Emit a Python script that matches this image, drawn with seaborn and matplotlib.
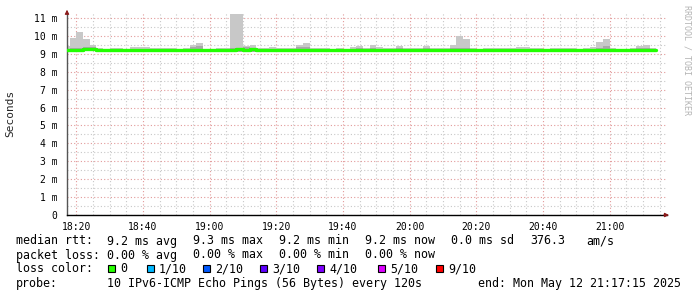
import numpy as np
import pandas as pd
import matplotlib
matplotlib.use("Agg")
import matplotlib.pyplot as plt
import matplotlib.dates as mdates
from matplotlib.patches import Rectangle
import seaborn as sns

# ---------------- data ----------------
start_time = "2025-05-12 18:16:00"      # first 2-minute step
view_start = "2025-05-12 18:17:15"
view_end = "2025-05-12 21:17:15"

rtt_max = [9.42, 9.90, 10.20, 9.85, 9.50, 9.30, 9.28, 9.33, 9.33, 9.28,
           9.38, 9.36, 9.38, 9.30, 9.32, 9.30, 9.30, 9.26, 9.30, 9.48,
           9.60, 9.25, 9.28, 9.30, 9.34, 11.20, 11.20, 9.46, 9.48, 9.35,
           9.33, 9.38, 9.35, 9.30, 9.30, 9.48, 9.60, 9.32, 9.30, 9.30,
           9.28, 9.30, 9.28, 9.36, 9.42, 9.33, 9.48, 9.38, 9.30, 9.32,
           9.42, 9.30, 9.30, 9.33, 9.42, 9.30, 9.30, 9.33, 9.48, 9.98,
           9.83, 9.30, 9.26, 9.30, 9.30, 9.33, 9.33, 9.32, 9.37, 9.37,
           9.30, 9.30, 9.28, 9.32, 9.30, 9.30, 9.30, 9.28, 9.30, 9.36,
           9.65, 9.83, 9.33, 9.28, 9.28, 9.30, 9.42, 9.48, 9.30]

rtt_inner_hi = [9.28, 9.30, 9.30, 9.38, 9.37, 9.27, 9.26, 9.27, 9.27, 9.26,
                9.28, 9.28, 9.28, 9.27, 9.27, 9.27, 9.27, 9.25, 9.27, 9.38,
                9.42, 9.24, 9.26, 9.27, 9.28, 9.30, 9.33, 9.36, 9.33, 9.28,
                9.27, 9.28, 9.28, 9.27, 9.27, 9.38, 9.40, 9.27, 9.27, 9.27,
                9.26, 9.27, 9.26, 9.28, 9.30, 9.27, 9.32, 9.28, 9.27, 9.27,
                9.30, 9.27, 9.27, 9.28, 9.30, 9.27, 9.27, 9.27, 9.30, 9.30,
                9.30, 9.27, 9.25, 9.27, 9.27, 9.28, 9.28, 9.27, 9.29, 9.29,
                9.27, 9.27, 9.26, 9.27, 9.27, 9.27, 9.27, 9.26, 9.27, 9.29,
                9.35, 9.45, 9.28, 9.26, 9.26, 9.27, 9.32, 9.35, 9.27]

rtt_min = [9.17, 9.17, 9.17, 9.16, 9.16, 9.12, 9.14, 9.15, 9.15, 9.15,
           9.15, 9.12, 9.12, 9.15, 9.15, 9.16, 9.16, 9.15, 9.15, 9.12,
           9.16, 9.15, 9.15, 9.16, 9.15, 9.15, 9.13, 9.13, 9.12, 9.12,
           9.15, 9.15, 9.15, 9.15, 9.15, 9.15, 9.15, 9.15, 9.14, 9.14,
           9.12, 9.15, 9.15, 9.15, 9.15, 9.14, 9.15, 9.15, 9.15, 9.15,
           9.15, 9.12, 9.12, 9.15, 9.15, 9.15, 9.15, 9.15, 9.15, 9.15,
           9.15, 9.15, 9.12, 9.12, 9.15, 9.15, 9.15, 9.15, 9.15, 9.15,
           9.12, 9.15, 9.15, 9.15, 9.15, 9.15, 9.15, 9.15, 9.15, 9.12,
           9.12, 9.15, 9.15, 9.15, 9.15, 9.15, 9.15, 9.15, 9.12]

rtt_median = [9.23, 9.23, 9.23, 9.25, 9.25, 9.20, 9.19, 9.21, 9.21, 9.21,
              9.21, 9.21, 9.20, 9.21, 9.21, 9.21, 9.21, 9.21, 9.21, 9.21,
              9.22, 9.20, 9.21, 9.21, 9.22, 9.23, 9.26, 9.24, 9.27, 9.21,
              9.21, 9.21, 9.21, 9.21, 9.21, 9.22, 9.22, 9.21, 9.21, 9.21,
              9.20, 9.21, 9.21, 9.21, 9.21, 9.21, 9.21, 9.21, 9.21, 9.21,
              9.21, 9.21, 9.22, 9.22, 9.21, 9.21, 9.21, 9.21, 9.21, 9.21,
              9.21, 9.21, 9.21, 9.21, 9.22, 9.22, 9.22, 9.21, 9.21, 9.21,
              9.21, 9.21, 9.21, 9.21, 9.21, 9.21, 9.21, 9.21, 9.21, 9.21,
              9.21, 9.22, 9.21, 9.21, 9.21, 9.21, 9.21, 9.21, 9.21]

y_ticks = [0, 1, 2, 3, 4, 5, 6, 7, 8, 9, 10, 11]
y_tick_labels = ["0", "1 m", "2 m", "3 m", "4 m", "5 m", "6 m", "7 m",
                 "8 m", "9 m", "10 m", "11 m"]

legend_lines = [
    [(16, "median rtt:"), (107, "9.2 ms avg"), (193, "9.3 ms max"),
     (279, "9.2 ms min"), (365, "9.2 ms now"), (451, "0.0 ms sd"),
     (530, "376.3"), (586, "am/s")],
    [(16, "packet loss:"), (107, "0.00 % avg"), (193, "0.00 % max"),
     (279, "0.00 % min"), (365, "0.00 % now")],
    [(16, "loss color:")],
    [(16, "probe:"), (107, "10 IPv6-ICMP Echo Pings (56 Bytes) every 120s"),
     (478, "end: Mon May 12 21:17:15 2025")],
]
loss_labels = ["0", "1/10", "2/10", "3/10", "4/10", "5/10", "9/10"]
loss_colors = ["#26ff00", "#00b8ff", "#0059ff", "#5e00ff", "#7e00ff",
               "#dd00ff", "#ff0000"]
loss_box_x = [108, 147, 203, 260, 317, 378, 436]

# ---------------- figure ----------------
sns.set_style("white")
plt.rcParams["font.family"] = ["DejaVu Sans Mono", "DejaVu Sans"]

W, H = 697, 297
fig = plt.figure(figsize=(W / 100, H / 100), dpi=100)
fig.patch.set_facecolor("white")
ax_left, ax_right, ax_bottom, ax_top = 67, 667, 215, 13
ax = fig.add_axes([ax_left / W, 1 - ax_bottom / H,
                   (ax_right - ax_left) / W, (ax_bottom - ax_top) / H])
ax.set_facecolor("white")

n = len(rtt_max)
edges = pd.date_range(start_time, periods=n + 1, freq="2min")

def stepped(vals):
    return list(vals) + [vals[-1]]

df = pd.DataFrame({
    "time": edges,
    "max": stepped(rtt_max),
    "hi": stepped(rtt_inner_hi),
    "min": stepped(rtt_min),
    "median": stepped(rtt_median),
})

# grid
ax.xaxis.set_major_locator(mdates.MinuteLocator(byminute=[0, 20, 40]))
ax.xaxis.set_minor_locator(mdates.MinuteLocator(byminute=range(0, 60, 5)))
ax.xaxis.set_major_formatter(mdates.DateFormatter("%H:%M"))
ax.set_yticks(y_ticks)
ax.set_yticklabels(y_tick_labels)
ax.set_yticks(np.arange(0.5, 11.5, 1.0), minor=True)
ax.grid(which="minor", color="#c8c8c8", linestyle=(0, (1, 2)), linewidth=0.8)
ax.grid(which="major", color="#e29a9a", linestyle=(0, (1, 2)), linewidth=0.8)
ax.set_axisbelow(True)

# smoke
ax.fill_between(df["time"], df["hi"], df["max"], step="post",
                color="#c8c8c8", linewidth=0, zorder=2)
ax.fill_between(df["time"], df["min"], df["hi"], step="post",
                color="#a8a8a8", linewidth=0, zorder=2)
# median line
sns.lineplot(data=df, x="time", y="median", ax=ax, color="#22ff00",
             linewidth=2.4, drawstyle="steps-post", zorder=3)

ax.set_xlim(pd.Timestamp(view_start), pd.Timestamp(view_end))
ax.set_ylim(0, 11.28)
ax.set_xlabel("")
ax.set_ylabel("")

for s in ["top", "right"]:
    ax.spines[s].set_visible(False)
ax.spines["left"].set_color("#555555")
ax.spines["left"].set_linewidth(1.0)
ax.spines["bottom"].set_color("black")
ax.spines["bottom"].set_linewidth(1.0)

ax.tick_params(axis="both", which="major", length=2, width=0.8,
               labelsize=7, colors="black", pad=3)
ax.tick_params(axis="y", which="major", pad=5)
ax.tick_params(axis="both", which="minor", length=0)

# axis arrows
ax.annotate("", xy=(0, 1.03), xytext=(0, 0.99), xycoords="axes fraction",
            arrowprops=dict(arrowstyle="-|>", color="#8b1a1a", lw=0.8,
                            mutation_scale=6), annotation_clip=False)
ax.annotate("", xy=(1.008, 0), xytext=(0.99, 0), xycoords="axes fraction",
            arrowprops=dict(arrowstyle="-|>", color="#8b1a1a", lw=0.8,
                            mutation_scale=6), annotation_clip=False)

# y label
fig.text(10 / W, 1 - 113 / H, "Seconds", rotation=90, ha="center",
         va="center", fontsize=8)

# watermark
fig.text(687 / W, 1 - 5 / H, "RRDTOOL / TOBI OETIKER", rotation=-90,
         ha="center", va="top", fontsize=6, color="#b4b4b4")

# legend text
line_y = [241, 255, 269, 283]
for yy, items in zip(line_y, legend_lines):
    for xx, txt in items:
        fig.text(xx / W, 1 - yy / H, txt, ha="left", va="center",
                 fontsize=8.4, color="black")

for bx, col, lab in zip(loss_box_x, loss_colors, loss_labels):
    fig.patches.append(Rectangle((bx / W, 1 - 272 / H), 7 / W, 7 / H,
                                 transform=fig.transFigure, facecolor=col,
                                 edgecolor="black", linewidth=0.8))
    fig.text((bx + 12) / W, 1 - 269 / H, lab, ha="left", va="center",
             fontsize=8.4, color="black")

fig.savefig("out.png", dpi=100, facecolor="white")
